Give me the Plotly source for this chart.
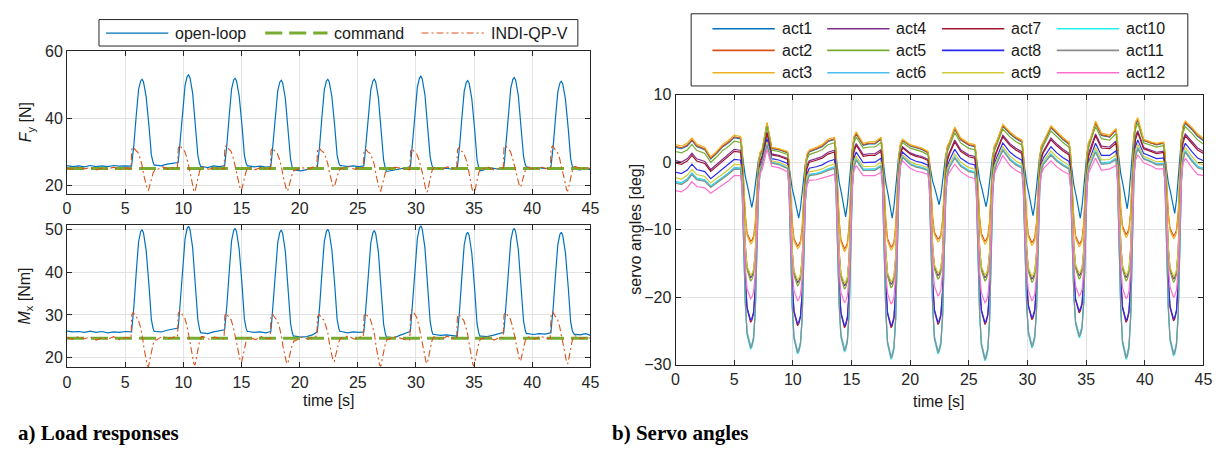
import plotly.graph_objects as go

W, H = 1227, 454

# ---------------------------------------------------------------- data
time_ticks = [0, 5, 10, 15, 20, 25, 30, 35, 40, 45]

# centre of each manoeuvre [s]
pulse_centers = [6.45, 10.45, 14.45, 18.42, 22.42, 26.42, 30.42, 34.45, 38.45, 42.5]

# open-loop load, quiet segments between manoeuvres
ol_knot_t = [0, 0.5, 1, 1.5, 2, 2.5, 3, 3.5, 4, 4.5, 5, 5.5,
             7.6, 8.1, 8.6, 9.1, 9.5,
             11.6, 12.1, 12.6, 13.1, 13.5,
             15.6, 16.1, 16.6, 17.1, 17.5,
             19.6, 20.1, 20.6, 21.1, 21.5,
             23.6, 24.1, 24.6, 25.1, 25.5,
             27.6, 28.1, 28.6, 29.1, 29.5,
             31.6, 32.1, 32.6, 33.1, 33.5,
             35.6, 36.1, 36.6, 37.1, 37.5,
             39.6, 40.1, 40.6, 41.1, 41.55,
             43.6, 44.1, 44.6, 45]
fy_open_knots = [25.9, 25.6, 25.8, 25.5, 25.9, 25.6, 25.8, 25.6, 25.9, 25.7, 25.8, 25.7,
                 26.0, 25.8, 26.3, 26.5, 26.8,
                 25.6, 25.3, 25.8, 25.6, 25.8,
                 25.8, 25.5, 25.7, 25.4, 25.6,
                 24.5, 24.3, 24.7, 25.0, 25.3,
                 25.9, 25.6, 25.8, 25.6, 25.8,
                 24.2, 24.6, 25.0, 25.3, 25.5,
                 25.2, 24.8, 25.1, 24.8, 25.0,
                 24.4, 24.9, 25.1, 24.8, 25.2,
                 25.4, 25.1, 25.3, 25.0, 25.3,
                 24.8, 24.6, 25.0, 24.7]
mx_open_knots = [26.2, 26.0, 26.1, 25.9, 26.2, 25.9, 26.1, 25.8, 26.0, 25.9, 26.1, 26.0,
                 26.1, 26.0, 26.4, 26.6, 26.9,
                 25.8, 25.6, 26.0, 26.2, 26.5,
                 26.1, 25.9, 26.0, 25.8, 26.1,
                 25.0, 24.8, 24.9, 25.3, 26.0,
                 26.1, 25.8, 26.0, 25.9, 26.0,
                 24.8, 24.6, 25.2, 25.8, 26.1,
                 25.4, 25.2, 25.3, 25.1, 25.0,
                 25.0, 24.9, 25.2, 25.5, 25.9,
                 25.6, 25.4, 25.6, 25.5, 25.8,
                 25.5, 25.3, 25.6, 25.2]
fy_open_peaks = [51.6, 52.9, 51.9, 51.3, 51.6, 51.6, 52.5, 51.2, 52.1, 51.0]
mx_open_peaks = [50.0, 50.8, 50.3, 49.9, 50.1, 49.8, 50.9, 49.4, 50.3, 49.4]
# open-loop pulse outline: offset from centre [s] and share of the peak rise
ol_rel_t = [-0.9, -0.82, -0.7, -0.5, -0.3, -0.12, 0.0, 0.12, 0.35, 0.6, 0.8, 0.95, 1.05]
ol_share = [0.0, 0.10, 0.25, 0.58, 0.88, 0.98, 1.0, 0.97, 0.80, 0.45, 0.12, 0.03, 0.0]

# INDI-QP-V load, quiet segments
indi_knot_t = [0, 0.5, 1, 1.5, 2, 2.5, 3, 3.5, 4, 4.5, 5, 5.4,
               7.7, 8.2, 8.7, 9.2,
               11.7, 12.2, 12.7, 13.2,
               15.7, 16.2, 16.7, 17.2,
               19.6, 20.2, 20.7, 21.2,
               23.6, 24.2, 24.7, 25.2,
               27.6, 28.2, 28.7, 29.2,
               31.6, 32.2, 32.7, 33.2,
               35.7, 36.2, 36.7, 37.2,
               39.7, 40.2, 40.7, 41.2,
               43.7, 44.2, 44.6, 45]
fy_indi_knots = [25.2, 24.8, 25.4, 24.9, 25.3, 24.6, 25.1, 24.8, 25.4, 24.7, 25.2, 25.0,
                 24.6, 25.5, 24.9, 25.3,
                 25.4, 24.8, 25.3, 24.9,
                 25.2, 24.7, 25.4, 24.9,
                 24.4, 25.3, 24.8, 25.5,
                 25.0, 25.6, 24.8, 25.3,
                 24.7, 25.4, 25.0, 24.6,
                 25.3, 24.8, 25.5, 25.0,
                 24.9, 25.4, 24.6, 25.2,
                 25.3, 24.8, 25.5, 25.0,
                 25.6, 24.9, 25.3, 25.0]
mx_indi_knots = [24.7, 24.3, 24.9, 24.4, 24.8, 24.1, 24.6, 24.3, 24.9, 24.2, 24.7, 24.5,
                 24.1, 25.0, 24.4, 24.8,
                 24.9, 24.3, 24.8, 24.4,
                 24.7, 24.2, 24.9, 24.4,
                 23.9, 24.8, 24.3, 25.0,
                 24.5, 25.1, 24.3, 24.8,
                 24.2, 24.9, 24.5, 24.1,
                 24.8, 24.3, 25.0, 24.5,
                 24.4, 24.9, 24.1, 24.7,
                 24.8, 24.3, 25.0, 24.5,
                 25.1, 24.4, 24.8, 24.5]
fy_indi_peaks = [31.4, 31.9, 31.9, 31.1, 31.2, 30.8, 30.9, 31.2, 31.9, 31.7]
fy_indi_dips = [18.5, 18.0, 18.5, 18.3, 19.5, 18.3, 18.0, 17.3, 19.5, 18.3]
mx_indi_peaks = [30.6, 31.0, 30.4, 30.2, 30.1, 30.4, 31.2, 30.2, 30.6, 30.7]
mx_indi_dips = [17.8, 18.2, 18.8, 18.5, 19.0, 17.9, 18.6, 18.0, 19.2, 18.5]
# INDI transient outline: overshoot share and undershoot share
indi_rel_t = [-0.95, -0.88, -0.75, -0.55, -0.35, -0.15, 0.0, 0.15, 0.3, 0.45, 0.55, 0.65, 0.8, 0.95, 1.1]
indi_up = [0.0, 0.9, 1.0, 0.85, 0.75, 0.45, 0.15, 0, 0, 0, 0, 0, 0, 0, 0]
indi_down = [0, 0, 0, 0, 0, 0, 0, 0.25, 0.6, 0.95, 1.0, 0.8, 0.45, 0.15, 0.0]

# commanded loads
cmd_t = [0, 45]
fy_cmd = [25.0, 25.0]
mx_cmd = [24.5, 24.5]

# servo angles: upper envelope and spread of the bundle between manoeuvres [deg]
servo_knot_t = [0.0, 0.5, 1.0, 1.4, 1.8, 2.5, 3.0, 3.5, 4.0, 4.5, 5.0, 5.5,
                7.4, 7.8, 8.2, 8.8, 9.5,
                11.4, 12.0, 12.5, 13.0, 13.5,
                15.4, 16.0, 16.5, 17.0, 17.5,
                19.35, 20.0, 20.5, 21.0, 21.5,
                23.35, 23.8, 24.3, 25.0, 25.5,
                27.35, 27.9, 28.5, 29.0, 29.5,
                31.35, 32.0, 32.5, 33.0, 33.5,
                35.4, 35.8, 36.3, 37.0, 37.5,
                39.4, 39.9, 40.5, 41.0, 41.5,
                43.45, 44.0, 44.5, 45.0]
servo_top = [2.6, 2.4, 2.8, 3.6, 2.7, 2.2, 0.8, 1.6, 2.6, 3.2, 4.0, 3.8,
             2.0, 5.9, 2.2, 2.0, 1.6,
             1.8, 2.2, 2.6, 3.4, 3.7,
             4.5, 2.8, 3.0, 3.0, 3.7,
             3.4, 2.6, 2.3, 2.1, 1.6,
             3.0, 5.2, 3.6, 2.8, 2.6,
             3.0, 5.6, 4.5, 3.8, 3.3,
             3.0, 5.4, 4.5, 3.7, 3.0,
             3.6, 6.1, 4.3, 4.0, 5.0,
             6.6, 3.4, 3.0, 2.8, 3.0,
             6.1, 5.2, 4.2, 3.5]
servo_spread = [6.8, 6.8, 6.6, 6.5, 6.3, 6.0, 5.4, 5.6, 6.0, 6.0, 6.0, 5.8,
                3.0, 4.0, 2.8, 2.8, 3.0,
                4.5, 4.8, 5.0, 5.5, 5.5,
                5.0, 4.8, 5.0, 5.0, 5.2,
                3.2, 3.5, 3.6, 3.6, 3.4,
                4.5, 5.5, 5.0, 5.0, 5.0,
                4.0, 4.6, 5.0, 5.0, 5.0,
                4.0, 5.2, 5.2, 5.0, 4.8,
                4.5, 5.5, 5.5, 5.0, 5.5,
                5.5, 3.5, 3.5, 3.8, 4.0,
                5.5, 6.0, 6.0, 5.5]

act_names = ['act1', 'act2', 'act3', 'act4', 'act5', 'act6',
             'act7', 'act8', 'act9', 'act10', 'act11', 'act12']
act_colors = ['#0072BD', '#D95319', '#EDB120', '#7E2F8E', '#77AC30', '#4DBEEE',
              '#A2142F', '#2B2BF0', '#CFCB3A', '#22F0F0', '#8C8C8C', '#FF6FCF']
# position inside the bundle (0 = top, 1 = bottom)
act_level_pos = [0.06, 0.04, 0.0, 0.35, 0.15, 0.8, 0.4, 0.6, 0.72, 0.82, 0.84, 1.0]

# trough angle of each manoeuvre [deg]
trough_blue = [-6.7, -8.3, -8.1, -8.3, -6.3, -6.6, -7.9, -8.3, -6.9, -7.6]
trough_orange = [-11.7, -12.4, -12.8, -12.6, -11.4, -11.7, -11.9, -12.1, -10.7, -10.9]
trough_mid = [-17.3, -18.0, -18.5, -18.3, -17.0, -17.3, -17.5, -17.0, -17.3, -17.5]
trough_pink = [-20.2, -20.5, -20.8, -21.0, -19.8, -20.8, -20.5, -19.8, -20.2, -20.0]
trough_red = [-23.7, -24.2, -24.5, -24.5, -24.0, -24.0, -23.3, -22.3, -23.7, -23.5]
trough_deep = [-27.5, -28.2, -27.9, -29.0, -28.2, -29.2, -27.3, -25.8, -29.0, -28.5]
act_trough_group = ['blue', 'orange', 'orange', 'mid', 'mid', 'deep',
                    'red', 'red', 'mid', 'deep', 'deep', 'pink']
act_trough_offset = [0.0, 0.0, -0.4, 0.2, -0.3, 0.3, 0.0, 0.3, 0.6, -0.2, 0.0, 0.0]

# trough outline: offset from centre [s] and share of the drop
servo_rel_t = [-0.9, -0.78, -0.65, -0.5, -0.35, -0.2, -0.05, 0.05, 0.2, 0.35, 0.5, 0.62, 0.75, 0.9]
servo_share = [0.0, 0.1, 0.4, 0.75, 0.92, 0.97, 1.0, 0.99, 0.95, 0.8, 0.45, 0.15, 0.04, 0.0]
act1_rel_t = [-0.9, -0.7, -0.5, -0.3, -0.1, 0.05, 0.2, 0.4, 0.6, 0.8, 0.9]
act1_share = [0.0, 0.3, 0.55, 0.7, 0.9, 1.0, 0.85, 0.55, 0.2, 0.05, 0.0]


# ---------------------------------------------------------------- helpers
def edges(knot_t, knot_v, lo, hi):
    pre = [v for t, v in zip(knot_t, knot_v) if t < lo][-1]
    post = [v for t, v in zip(knot_t, knot_v) if t > hi][0]
    return pre, post


def assemble(knot_t, knot_v, rel_t, window_fn):
    pts = []
    spans = []
    for k, c in enumerate(pulse_centers):
        lo, hi = c + rel_t[0], c + rel_t[-1]
        spans.append((lo, hi))
        pre, post = edges(knot_t, knot_v, lo, hi)
        for i, r in enumerate(rel_t):
            base = pre if r <= 0 else post
            pts.append((c + r, window_fn(k, i, base)))
    for t, v in zip(knot_t, knot_v):
        if not any(lo <= t <= hi for lo, hi in spans):
            pts.append((t, v))
    pts.sort()
    return [p[0] for p in pts], [p[1] for p in pts]


def open_loop(knots, peaks):
    return assemble(ol_knot_t, knots, ol_rel_t,
                    lambda k, i, b: b + ol_share[i] * (peaks[k] - b))


def indi(knots, peaks, dips):
    return assemble(indi_knot_t, knots, indi_rel_t,
                    lambda k, i, b: b + indi_up[i] * (peaks[k] - b)
                    + indi_down[i] * (dips[k] - b))


troughs = {'blue': trough_blue, 'orange': trough_orange, 'mid': trough_mid,
           'pink': trough_pink, 'red': trough_red, 'deep': trough_deep}


def servo(a):
    level = [t - act_level_pos[a] * s for t, s in zip(servo_top, servo_spread)]
    tr = [v + act_trough_offset[a] for v in troughs[act_trough_group[a]]]
    rel, share = (act1_rel_t, act1_share) if a == 0 else (servo_rel_t, servo_share)
    return assemble(servo_knot_t, level, rel,
                    lambda k, i, b: b + share[i] * (tr[k] - b))


# ---------------------------------------------------------------- figure
C_OPEN, C_CMD, C_INDI = '#0072BD', '#77AC30', '#D95319'
INK = '#262626'
FONT = 'Liberation Sans, Arial, sans-serif'
CMD_DASH = '17px,7px'
INDI_DASH = '7px,3px,2px,3px'

fig = go.Figure()

for ax_x, ax_y, ol_k, ol_p, ind_k, ind_p, ind_d, cmd in [
        ('x', 'y', fy_open_knots, fy_open_peaks, fy_indi_knots, fy_indi_peaks, fy_indi_dips, fy_cmd),
        ('x2', 'y2', mx_open_knots, mx_open_peaks, mx_indi_knots, mx_indi_peaks, mx_indi_dips, mx_cmd)]:
    t, v = open_loop(ol_k, ol_p)
    fig.add_trace(go.Scatter(x=t, y=v, mode='lines', xaxis=ax_x, yaxis=ax_y,
                             line=dict(color=C_OPEN, width=1.2), showlegend=False))
    fig.add_trace(go.Scatter(x=cmd_t, y=cmd, mode='lines', xaxis=ax_x, yaxis=ax_y,
                             line=dict(color=C_CMD, width=3, dash=CMD_DASH), showlegend=False))
    t, v = indi(ind_k, ind_p, ind_d)
    fig.add_trace(go.Scatter(x=t, y=v, mode='lines', xaxis=ax_x, yaxis=ax_y,
                             line=dict(color=C_INDI, width=1.1, dash=INDI_DASH), showlegend=False))

for a in range(12):
    t, v = servo(a)
    fig.add_trace(go.Scatter(x=t, y=v, mode='lines', xaxis='x3', yaxis='y3',
                             line=dict(color=act_colors[a], width=1.2), showlegend=False))


def px(x):
    return x / W


def py(y):
    return 1 - y / H


axis_style = dict(showline=True, mirror='ticks', linecolor=INK, linewidth=1,
                  ticks='inside', ticklen=5, tickcolor=INK, showgrid=True,
                  gridcolor='#e3e3e3', gridwidth=1, zeroline=False,
                  tickfont=dict(family=FONT, size=16, color=INK))

left_dom = [px(63.7), px(592.7)]
fig.update_layout(
    width=W, height=H, margin=dict(l=0, r=0, t=0, b=0),
    paper_bgcolor='white', plot_bgcolor='white', showlegend=False,
    xaxis=dict(domain=left_dom, anchor='y', range=[0, 45], tickvals=time_ticks, **axis_style),
    yaxis=dict(domain=[py(193.3), py(44.7)], anchor='x', range=[17.4, 60],
               tickvals=[20, 40, 60], **axis_style),
    xaxis2=dict(domain=left_dom, anchor='y2', range=[0, 45], tickvals=time_ticks, **axis_style),
    yaxis2=dict(domain=[py(373.3), py(225)], anchor='x2', range=[17.7, 51.2],
                tickvals=[20, 30, 40, 50], **axis_style),
    xaxis3=dict(domain=[px(678.7), px(1212.3)], anchor='y3', range=[0, 45],
                tickvals=time_ticks, **axis_style),
    yaxis3=dict(domain=[py(370.7), py(90)], anchor='x3', range=[-30, 10],
                tickvals=[-30, -20, -10, 0, 10], **axis_style),
)

shapes = []
annotations = []


def text(x, y, s, size=16, anchor='left', angle=0, family=FONT, color='#1a1a1a'):
    annotations.append(dict(x=px(x), y=py(y), xref='paper', yref='paper', text=s,
                            showarrow=False, xanchor=anchor, yanchor='middle',
                            textangle=angle, font=dict(family=family, size=size, color=color)))


def seg(x0, x1, y, color, width, dash='solid'):
    shapes.append(dict(type='line', xref='paper', yref='paper', x0=px(x0), x1=px(x1),
                       y0=py(y), y1=py(y), line=dict(color=color, width=width, dash=dash)))


def box(x0, y0, x1, y1):
    shapes.append(dict(type='rect', xref='paper', yref='paper', x0=px(x0), x1=px(x1),
                       y0=py(y1), y1=py(y0), line=dict(color=INK, width=1), fillcolor='white'))


# legend of the load responses
box(96, 12, 580, 39.5)
for x0, label, color, width, dash in [(103, 'open-loop', C_OPEN, 1.2, 'solid'),
                                      (264, 'command', C_CMD, 3, CMD_DASH),
                                      (422, 'INDI-QP-V', C_INDI, 1.1, INDI_DASH)]:
    seg(x0, x0 + 63, 26, color, width, dash)
    text(x0 + 68, 26, label)

# legend of the servo angles (column-wise)
box(694.5, 6, 1196.5, 81)
col_x = [716, 832, 948, 1064]
row_y = [21.5, 44, 67.3]
for a, name in enumerate(act_names):
    cx, ry = col_x[a // 3], row_y[a % 3]
    seg(cx, cx + 63, ry, act_colors[a], 1.6)
    text(cx + 68, ry, name)

# axis titles
text(23, 119, '<i>F</i><sub>y</sub> [N]', anchor='center', angle=-90)
text(22, 299, '<i>M</i><sub>x</sub> [Nm]', anchor='center', angle=-90)
text(638, 230, 'servo angles [deg]', anchor='center', angle=-90)
text(328, 408, 'time [s]', anchor='center')
text(945, 409, 'time [s]', anchor='center')

# panel captions
text(12, 442, '<b>a) Load responses</b>', size=21,
     family='Liberation Serif, Times New Roman, serif', color='black')
text(612, 442, '<b>b) Servo angles</b>', size=21,
     family='Liberation Serif, Times New Roman, serif', color='black')

fig.update_layout(shapes=shapes, annotations=annotations)
fig.write_html('out.html')
